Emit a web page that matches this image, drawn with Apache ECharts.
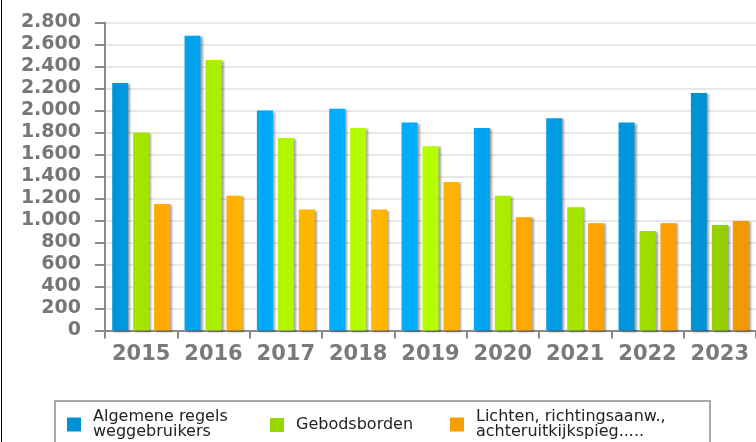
<!DOCTYPE html>
<html>
<head>
<meta charset="utf-8">
<script src="https://cdn.jsdelivr.net/npm/echarts@6/dist/echarts.min.js"></script>
<style>html,body{margin:0;padding:0;background:#fff;}#c{width:756px;height:442px;}</style>
</head>
<body>
<div id="c"></div>
<script>
const categories = ['2015','2016','2017','2018','2019','2020','2021','2022','2023'];
const seriesNames = ['Algemene regels weggebruikers', 'Gebodsborden', 'Lichten, richtingsaanw., achteruitkijkspieg.....'];
const legendLabels = ['Algemene regels\nweggebruikers', 'Gebodsborden', 'Lichten, richtingsaanw.,\nachteruitkijkspieg.....'];
const algemeneRegels = [2250, 2680, 2000, 2015, 1890, 1840, 1930, 1890, 2160];
const gebodsborden = [1800, 2460, 1750, 1840, 1675, 1225, 1120, 905, 960];
const lichten = [1150, 1225, 1100, 1100, 1350, 1030, 975, 975, 995];
const yTicks = { min: 0, max: 2800, interval: 200 };

const chart = echarts.init(document.getElementById('c'), null, { renderer: 'canvas' });

function grad(stops) {
  return new echarts.graphic.LinearGradient(105, 0, 756, 0,
    stops.map((c, i) => ({ offset: i / (stops.length - 1), color: c })), true);
}
const blueGrad = grad(['#0094da', '#00a2ea', '#00aaf8', '#00aeff', '#00acfc', '#00a0ea', '#0099e0', '#0094d6', '#008ccc']);
const greenGrad = grad(['#a0e000', '#a8ea00', '#b0f500', '#b4fb00', '#b6ff00', '#a8eb00', '#a3e400', '#9cd900', '#90c800']);
const orangeGrad = grad(['#ffa600', '#ffac00', '#ffb400', '#ffb800', '#ffb600', '#ffa800', '#ffa300', '#ff9e00', '#ee9800']);
const legendIconColors = ['#0090d8', '#99d600', '#f5a000'];

const fmt = v => {
  const s = String(v);
  return s.length > 3 ? s.slice(0, s.length - 3) + '.' + s.slice(-3) : s;
};

const shadow = { shadowColor: 'rgba(0,0,0,0.35)', shadowBlur: 2, shadowOffsetX: 2, shadowOffsetY: 1 };

function legendAt(idx, left, top) {
  return {
    show: true,
    data: [{ name: seriesNames[idx], itemStyle: { color: legendIconColors[idx] } }],
    left: left, top: top, padding: 0,
    orient: 'horizontal',
    itemWidth: 14, itemHeight: 14,
    icon: 'rect',
    selectedMode: false,
    formatter: () => legendLabels[idx],
    textStyle: { fontFamily: 'DejaVu Sans', fontSize: 16, lineHeight: 15, color: '#222', padding: [0, 0, 0, 7] }
  };
}

chart.setOption({
  animation: false,
  backgroundColor: '#fff',
  grid: { left: 105, right: 0, top: 22.5, bottom: 111.5, containLabel: false },
  legend: [legendAt(0, 67, 409), legendAt(1, 270, 417), legendAt(2, 450, 409)],
  xAxis: {
    type: 'category',
    data: categories,
    axisLine: { lineStyle: { color: '#8a8a8a', width: 2 } },
    axisTick: { show: true, length: 8, interval: 0, lineStyle: { color: '#8a8a8a', width: 2 } },
    axisLabel: { interval: 0, hideOverlap: false, margin: 14, fontFamily: 'DejaVu Sans', fontWeight: 'bold', fontSize: 21, color: '#7a7a7a' },
    splitLine: { show: false }
  },
  yAxis: {
    type: 'value',
    min: yTicks.min, max: yTicks.max, interval: yTicks.interval,
    axisLine: { show: true, lineStyle: { color: '#8a8a8a', width: 2 } },
    axisTick: { show: true, length: 10, lineStyle: { color: '#8a8a8a', width: 2 } },
    axisLabel: { margin: 24, fontFamily: 'DejaVu Sans', fontWeight: 'bold', fontSize: 19, color: '#777', formatter: fmt },
    splitLine: { show: true, lineStyle: { color: '#e8e8e8', width: 2 } }
  },
  series: [
    { name: seriesNames[0], type: 'bar', data: algemeneRegels, barWidth: 16, barGap: '31%', itemStyle: Object.assign({ color: blueGrad }, shadow) },
    { name: seriesNames[1], type: 'bar', data: gebodsborden, barWidth: 16, barGap: '31%', itemStyle: Object.assign({ color: greenGrad }, shadow) },
    { name: seriesNames[2], type: 'bar', data: lichten, barWidth: 16, barGap: '31%', itemStyle: Object.assign({ color: orangeGrad }, shadow) }
  ],
  graphic: [
    { type: 'rect', z: -1, shape: { x: 55, y: 401, width: 655, height: 60 }, style: { fill: '#fff', stroke: '#a8a8a8', lineWidth: 2 } },
    { type: 'line', shape: { x1: 1.5, y1: 0, x2: 1.5, y2: 442 }, style: { stroke: '#000', lineWidth: 1 } }
  ]
});
</script>
</body>
</html>
